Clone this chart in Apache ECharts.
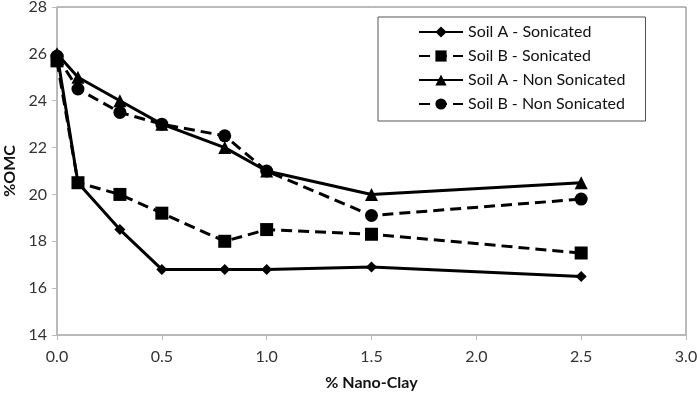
<!DOCTYPE html>
<html>
<head>
<meta charset="utf-8">
<script src="https://cdn.jsdelivr.net/npm/echarts@6/dist/echarts.min.js"></script>
<style>
    html, body { margin: 0; padding: 0; background: #fff; }
    #chart { width: 699px; height: 395px; }
</style>
</head>
<body>
<div id="chart"></div>
<script>
    // 数据
    var nanoClay = [0, 0.1, 0.3, 0.5, 0.8, 1.0, 1.5, 2.5];
    var soilASonicated = [26.0, 20.5, 18.5, 16.8, 16.8, 16.8, 16.9, 16.5];
    var soilBSonicated = [25.7, 20.5, 20.0, 19.2, 18.0, 18.5, 18.3, 17.5];
    var soilANonSonicated = [26.0, 25.0, 24.0, 23.0, 22.0, 21.0, 20.0, 20.5];
    var soilBNonSonicated = [25.9, 24.5, 23.5, 23.0, 22.5, 21.0, 19.1, 19.8];
    var seriesNames = ['Soil A - Sonicated', 'Soil B - Sonicated', 'Soil A - Non Sonicated', 'Soil B - Non Sonicated'];

    function pairs(ys) {
        return nanoClay.map(function (x, i) { return [x, ys[i]]; });
    }

    var font = 'Lato, "Open Sans", sans-serif';
    var myChart = echarts.init(document.getElementById('chart'));

    function makeSeries(name, ys, symbol, size, dashed) {
        return {
            name: name,
            type: 'line',
            data: pairs(ys),
            symbol: symbol,
            symbolSize: size,
            showSymbol: true,
            itemStyle: { color: '#000' },
            lineStyle: { color: '#000', width: 3, type: dashed ? [11, 6] : 'solid' },
            emphasis: { disabled: true }
        };
    }

    var option = {
        animation: false,
        textStyle: { fontFamily: font },
        grid: {
            left: 57, right: 13, top: 7, bottom: 60,
            containLabel: false,
            outerBoundsMode: 'none',
            show: true,
            borderColor: '#777',
            borderWidth: 1
        },
        legend: {
            data: seriesNames,
            orient: 'vertical',
            left: 378,
            top: 17,
            width: 283,
            padding: [7, 20, 9, 40],
            itemGap: 8,
            itemWidth: 44,
            itemHeight: 14,
            borderColor: '#555',
            borderWidth: 1,
            backgroundColor: '#fff',
            textStyle: { fontFamily: font, fontSize: 16, color: '#111' }
        },
        xAxis: {
            type: 'value',
            min: 0,
            max: 3,
            interval: 0.5,
            name: '% Nano-Clay',
            nameLocation: 'middle',
            nameGap: 40,
            nameTextStyle: { fontFamily: font, fontSize: 16, fontWeight: 'bold', color: '#111' },
            axisLine: { show: true, lineStyle: { color: '#bbb', width: 1.5 } },
            axisTick: { show: true, length: 5, lineStyle: { color: '#bbb' } },
            axisLabel: {
                fontSize: 16, color: '#333', margin: 14,
                formatter: function (v) { return v.toFixed(1); }
            },
            splitLine: { show: false }
        },
        yAxis: {
            type: 'value',
            min: 14,
            max: 28,
            interval: 2,
            name: '%OMC',
            nameLocation: 'middle',
            nameGap: 31,
            nameTextStyle: { fontFamily: font, fontSize: 16, fontWeight: 'bold', color: '#111' },
            axisLine: { show: true, lineStyle: { color: '#bbb', width: 1.5 } },
            axisTick: { show: true, length: 5, lineStyle: { color: '#bbb' } },
            axisLabel: { fontSize: 16, color: '#333', margin: 10 },
            splitLine: { show: false }
        },
        series: [
            makeSeries(seriesNames[0], soilASonicated, 'diamond', 11, false),
            makeSeries(seriesNames[1], soilBSonicated, 'rect', 13, true),
            makeSeries(seriesNames[2], soilANonSonicated, 'triangle', 13, false),
            makeSeries(seriesNames[3], soilBNonSonicated, 'circle', 13, true)
        ]
    };
    myChart.setOption(option);
</script>
</body>
</html>
